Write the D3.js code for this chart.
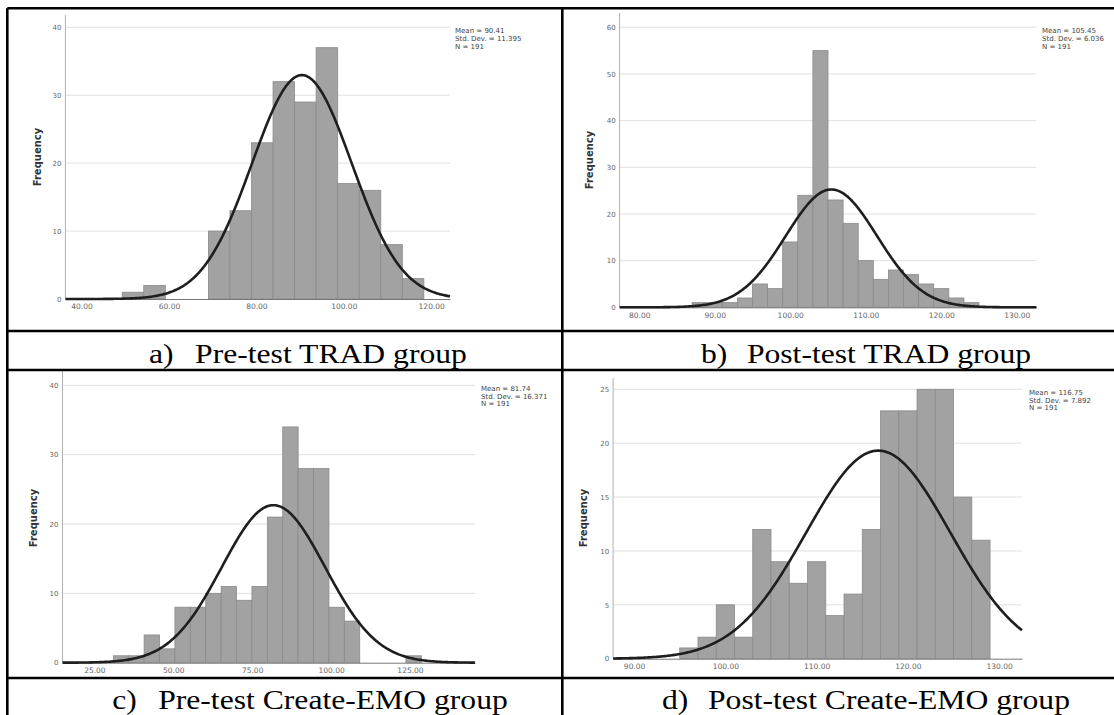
<!DOCTYPE html>
<html>
<head>
<meta charset="utf-8">
<script src="https://cdn.jsdelivr.net/npm/d3@7"></script>
<style>
  body { margin: 0; background: #fff; }
  .tick text { font-family: "DejaVu Sans", sans-serif; }
</style>
</head>
<body>
<div class="canva"></div>
<script>
// histogram counts
const countsA = [1, 2, 0, 0, 10, 13, 23, 32, 29, 37, 17, 16, 8, 3];
const countsB = [1, 1, 1, 2, 5, 4, 14, 24, 55, 23, 18, 10, 6, 8, 7, 5, 4, 2, 1];
const countsC = [1, 1, 4, 2, 8, 8, 10, 11, 9, 11, 21, 34, 28, 28, 8, 6, 0, 0, 0, 1];
const countsD = [1, 2, 5, 2, 12, 9, 7, 9, 4, 6, 12, 23, 23, 25, 25, 15, 11];

const binStarts = [49.3, 87, 31, 95];
const binWidths = [4.93, 2, 4.88, 2];

const means = [90.41, 105.45, 81.74, 116.75];
const stdDevs = [11.395, 6.036, 16.371, 7.892];
const nValues = [191, 191, 191, 191];

const xTicksList = [
    [40, 60, 80, 100, 120],
    [80, 90, 100, 110, 120, 130],
    [25, 50, 75, 100, 125],
    [90, 100, 110, 120, 130]
];
const yTicksList = [
    [0, 10, 20, 30, 40],
    [0, 10, 20, 30, 40, 50, 60],
    [0, 10, 20, 30, 40],
    [0, 5, 10, 15, 20, 25]
];

const captionLetters = ["a)", "b)", "c)", "d)"];
const captionTitles = ["Pre-test TRAD group", "Post-test TRAD group",
    "Pre-test Create-EMO group", "Post-test Create-EMO group"];

const allCounts = [countsA, countsB, countsC, countsD];

// where each chart sits inside the table (pixels)
const layouts = [
    {xDom: [36.3, 124.3], xRange: [65.4, 450], yRange: [299, 27.3], axisTop: 15,
     statsX: 455, statsY: 31, freqX: 37.5, freqY: 157},
    {xDom: [77.4, 132.6], xRange: [619.6, 1036.4], yRange: [307.3, 27.3], axisTop: 13,
     statsX: 1042, statsY: 31, freqX: 589, freqY: 160},
    {xDom: [14.9, 145.6], xRange: [62.5, 475], yRange: [662.7, 385.3], axisTop: 371,
     statsX: 481, statsY: 388.5, freqX: 33, freqY: 518},
    {xDom: [87.7, 132.5], xRange: [613.1, 1022], yRange: [658.7, 389.3], axisTop: 378,
     statsX: 1029, statsY: 392.7, freqX: 583, freqY: 518}
];

const svg = d3.select(".canva").append("svg")
    .attr("width", 1114)
    .attr("height", 715)
    .style("display", "block");

allCounts.forEach((counts, p) => {
    const L = layouts[p];
    const yMax = d3.max(yTicksList[p]);
    const x = d3.scaleLinear().domain(L.xDom).range(L.xRange);
    const y = d3.scaleLinear().domain([0, yMax]).range(L.yRange);
    const g = svg.append("g");

    // gridlines
    g.selectAll(".grid")
        .data(yTicksList[p].filter(d => d > 0))
        .enter().append("line")
        .attr("x1", L.xRange[0])
        .attr("x2", L.xRange[1])
        .attr("y1", d => y(d))
        .attr("y2", d => y(d))
        .attr("stroke", "#e0e0e0")
        .attr("stroke-width", 1);

    // bars
    const bins = counts.map((c, i) => ({
        x0: binStarts[p] + i * binWidths[p],
        x1: binStarts[p] + (i + 1) * binWidths[p],
        count: c
    })).filter(d => d.count > 0);

    g.selectAll(".bar")
        .data(bins)
        .enter().append("rect")
        .attr("x", d => x(d.x0))
        .attr("width", d => x(d.x1) - x(d.x0))
        .attr("y", d => y(d.count))
        .attr("height", d => y(0) - y(d.count))
        .attr("fill", "#a2a2a2")
        .attr("stroke", "#8a8a8a")
        .attr("stroke-width", 0.8);

    // y axis line (runs a bit above top gridline like SPSS)
    g.append("line")
        .attr("x1", L.xRange[0]).attr("x2", L.xRange[0])
        .attr("y1", L.axisTop).attr("y2", y(0))
        .attr("stroke", "#b0b0b0");

    const yAxis = d3.axisLeft(y)
        .tickValues(yTicksList[p])
        .tickSize(0)
        .tickPadding(4)
        .tickFormat(d3.format("d"));
    const yg = g.append("g")
        .attr("transform", `translate(${L.xRange[0]},0)`)
        .call(yAxis);
    yg.select(".domain").remove();
    yg.selectAll("text").attr("fill", "#666").style("font-size", "7px");

    const xAxis = d3.axisBottom(x)
        .tickValues(xTicksList[p])
        .tickSize(0)
        .tickSizeOuter(0)
        .tickPadding(5)
        .tickFormat(d3.format(".2f"));
    const xg = g.append("g")
        .attr("transform", `translate(0,${y(0)})`)
        .call(xAxis);
    xg.select(".domain").attr("stroke", "#777");
    xg.selectAll("text").attr("fill", "#666").style("font-size", "7.5px");

    // fitted normal curve from the stated mean / sd / N
    const scaleN = nValues[p] * binWidths[p] / (stdDevs[p] * Math.sqrt(2 * Math.PI));
    const pts = d3.range(L.xDom[0], L.xDom[1] + 0.01, (L.xDom[1] - L.xDom[0]) / 300);
    const curve = d3.line()
        .x(d => x(d))
        .y(d => y(scaleN * Math.exp(-0.5 * Math.pow((d - means[p]) / stdDevs[p], 2))));
    g.append("path")
        .datum(pts)
        .attr("d", curve)
        .attr("fill", "none")
        .attr("stroke", "#1e1e1e")
        .attr("stroke-width", 2.6);

    // stats box
    const statLines = ["Mean = " + means[p], "Std. Dev. = " + stdDevs[p], "N = " + nValues[p]];
    g.selectAll(".stat")
        .data(statLines)
        .enter().append("text")
        .attr("x", L.statsX)
        .attr("y", (d, i) => L.statsY + i * 7.6)
        .attr("dy", "0.35em")
        .style("font-family", "DejaVu Sans, sans-serif")
        .style("font-size", "7px")
        .attr("fill", "#444")
        .text(d => d);

    // Frequency label
    g.append("text")
        .attr("transform", `translate(${L.freqX},${L.freqY}) rotate(-90)`)
        .attr("text-anchor", "middle")
        .attr("dy", "0.35em")
        .style("font-family", "DejaVu Sans, sans-serif")
        .style("font-weight", "bold")
        .style("font-size", "10px")
        .attr("fill", "#333")
        .text("Frequency");
});

// table frame (right and bottom edges fall outside the picture)
const tableLeft = 7.3, tableRight = 1116, tableTop = 8.3, midX = 562.3;
const rowLines = [331, 370, 678];
const border = svg.append("g").attr("stroke", "#000").attr("stroke-width", 2.6);
border.append("line").attr("x1", tableLeft).attr("x2", tableRight).attr("y1", tableTop).attr("y2", tableTop);
rowLines.forEach(yy => {
    border.append("line").attr("x1", tableLeft).attr("x2", tableRight).attr("y1", yy).attr("y2", yy);
});
border.append("line").attr("x1", tableLeft).attr("x2", tableLeft).attr("y1", tableTop).attr("y2", 716);
border.append("line").attr("x1", midX).attr("x2", midX).attr("y1", tableTop).attr("y2", 716);

// captions (the figure is stretched a little horizontally)
const capCenters = [308, 866, 310, 866];
const capBaselines = [363, 363, 709, 709];
const stretch = 1.13;
captionTitles.forEach((t, i) => {
    const cg = svg.append("g");
    const lab = cg.append("text")
        .style("font-family", "Liberation Serif, Times New Roman, serif")
        .style("font-size", "28px")
        .text(captionLetters[i]);
    const main = cg.append("text")
        .style("font-family", "Liberation Serif, Times New Roman, serif")
        .style("font-size", "28px")
        .text(t);
    const mw = main.node().getComputedTextLength() * stretch;
    const lw = lab.node().getComputedTextLength() * stretch;
    main.attr("textLength", mw).attr("lengthAdjust", "spacingAndGlyphs");
    lab.attr("textLength", lw).attr("lengthAdjust", "spacingAndGlyphs");
    const gap = 46;
    const start = capCenters[i] - (gap + mw) / 2;
    lab.attr("x", start).attr("y", capBaselines[i]);
    main.attr("x", start + gap).attr("y", capBaselines[i]);
});
</script>
</body>
</html>
